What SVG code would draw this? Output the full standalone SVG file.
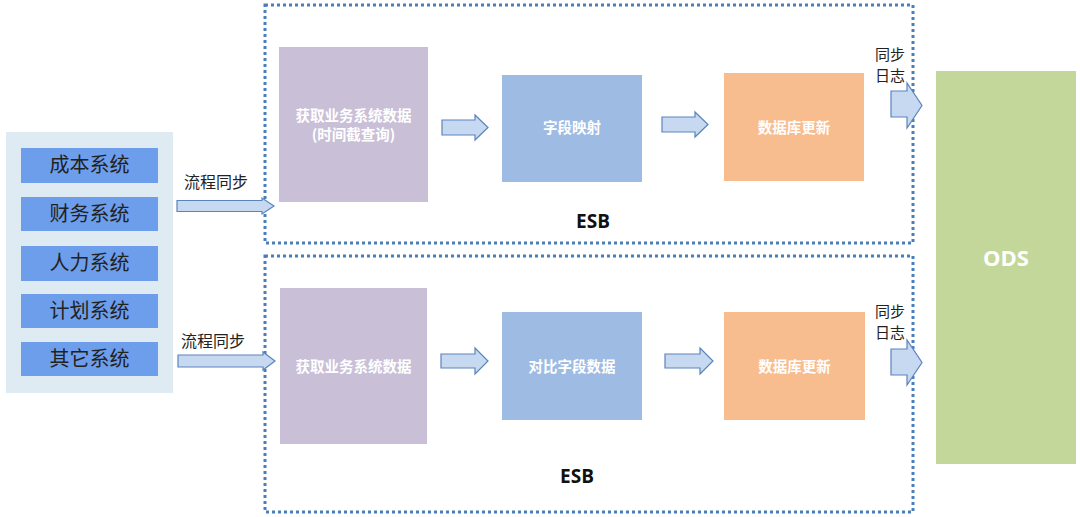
<svg xmlns="http://www.w3.org/2000/svg" width="1080" height="517" viewBox="0 0 1080 517">
<style>
.sys{fill:#6d9eeb}
.lbl{font-family:"Noto Sans CJK SC","Noto Sans",sans-serif;fill:#222}
.wt{font-family:"Noto Sans CJK SC","Noto Sans",sans-serif;fill:#ffffff;font-weight:bold;font-size:14.5px;text-anchor:middle}
.arr{fill:#c6d9f1;stroke:#5a84bd;stroke-width:1.2}
.dot{fill:none;stroke:#4a7ebb;stroke-width:3;stroke-dasharray:3 3}
.esb{font-family:"Open Sans","Liberation Sans",sans-serif;font-weight:bold;font-size:19px;fill:#111;text-anchor:middle}
</style>
<rect width="1080" height="517" fill="#ffffff"/>
<g id="sources">
<rect x="6" y="132" width="167" height="261" fill="#deebf2"/>
<rect class="sys" x="21" y="148" width="137" height="35"/>
<rect class="sys" x="21" y="197" width="137" height="34"/>
<rect class="sys" x="21" y="246" width="137" height="35"/>
<rect class="sys" x="21" y="294" width="137" height="34"/>
<rect class="sys" x="21" y="342" width="137" height="34"/>
<g class="lbl" font-size="20" text-anchor="middle">
<text x="89.5" y="172">成本系统</text>
<text x="89.5" y="221">财务系统</text>
<text x="89.5" y="270">人力系统</text>
<text x="89.5" y="318">计划系统</text>
<text x="89.5" y="366">其它系统</text>
</g>
</g>
<g id="esb-top">
<rect class="dot" x="265" y="5" width="648" height="238"/>
<text class="esb" x="593" y="228">ESB</text>
</g>
<g id="esb-bottom">
<rect class="dot" x="265" y="256" width="648" height="256"/>
<text class="esb" x="577" y="483">ESB</text>
</g>
<g id="fetch-top">
<rect x="279" y="47" width="149" height="155" fill="#c9c0d8"/>
<text class="wt" x="353.5" y="121"><tspan x="353.5">获取业务系统数据</tspan><tspan x="353.5" dy="19">(时间截查询)</tspan></text>
</g>
<g id="map-top">
<rect x="502" y="75" width="140" height="107" fill="#9dbbe3"/>
<text class="wt" x="572" y="133">字段映射</text>
</g>
<g id="db-top">
<rect x="724" y="73" width="140" height="108" fill="#f8bd8f"/>
<text class="wt" x="794" y="133">数据库更新</text>
</g>
<g id="fetch-bottom">
<rect x="280" y="288" width="147" height="156" fill="#c9c0d8"/>
<text class="wt" x="353.5" y="372">获取业务系统数据</text>
</g>
<g id="compare-bottom">
<rect x="502" y="312" width="140" height="108" fill="#9dbbe3"/>
<text class="wt" x="572" y="372">对比字段数据</text>
</g>
<g id="db-bottom">
<rect x="724" y="312" width="141" height="108" fill="#f8bd8f"/>
<text class="wt" x="794.5" y="372">数据库更新</text>
</g>
<g id="ods">
<rect x="936" y="71" width="140" height="393" fill="#c4d79b"/>
<text x="1006" y="266" font-family="'Open Sans','Liberation Sans',sans-serif" font-weight="bold" font-size="22" fill="#ffffff" text-anchor="middle">ODS</text>
</g>
<g id="connectors">
<path class="arr" d="M177,200.5 H262 V198 L274,206 L262,214 V211.5 H177 Z"/>
<path class="arr" d="M178,355 H263 V352 L275,361 L263,370 V367 H178 Z"/>
<path class="arr" d="M442,120 H475 V115 L488,127.5 L475,140 V135 H442 Z"/>
<path class="arr" d="M662,117 H695 V112 L708,124.5 L695,137 V132 H662 Z"/>
<path class="arr" d="M441,354 H475 V348 L488,361 L475,374 V368 H441 Z"/>
<path class="arr" d="M665,354 H700 V348 L713,361 L700,374 V368 H665 Z"/>
<path class="arr" d="M891,91 H907 V83 L922,105.5 L907,128 V117 H891 Z"/>
<path class="arr" d="M891,349 H907 V340 L922,362.5 L907,385 V375 H891 Z"/>
<g class="lbl" font-size="15">
<text x="184" y="188" font-size="16">流程同步</text>
<text x="181" y="347" font-size="16">流程同步</text>
<text x="875" y="60">同步</text>
<text x="875" y="81">日志</text>
<text x="875" y="317">同步</text>
<text x="875" y="338">日志</text>
</g>
</g>
</svg>
